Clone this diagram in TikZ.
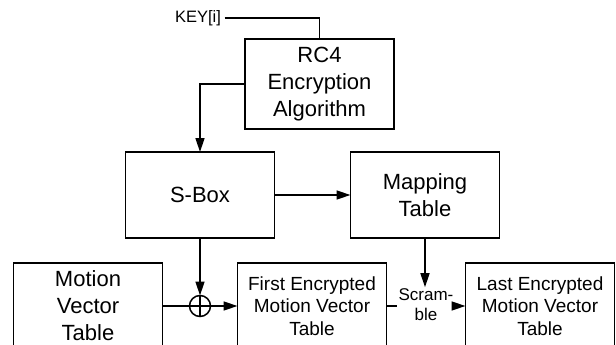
\documentclass[tikz,border=0pt]{standalone}
\usepackage{fontspec}
\setmainfont{Liberation Sans}
\usetikzlibrary{arrows.meta}
\begin{document}
\begin{tikzpicture}[x=1pt,y=-1pt,line width=1.5pt,
  box/.style={draw,minimum width=149pt,minimum height=86pt,inner sep=0pt,outer sep=0pt,align=center,font=\fontsize{22}{27}\selectfont},
  sbox/.style={box,font=\fontsize{19}{22.5}\selectfont},
  arr/.style={-{Triangle[length=14pt,width=9pt]}}]
\useasboundingbox (0,0) rectangle (616,345);
\clip (0,0) rectangle (616,345);
\node[inner sep=3pt,font=\fontsize{16.5}{19}\selectfont] (key) at (198,18) {KEY[i]};
\node[box,minimum height=90pt] (rc4) at (319.5,84) {RC4\\Encryption\\Algorithm};
\node[box] (sb) at (200,195) {S-Box};
\node[box] (map) at (425,195) {Mapping\\Table};
\node[box] (motion) at (88,306) {Motion\\Vector\\Table};
\node[sbox] (first) at (312,306) {First Encrypted\\Motion Vector\\Table};
\node[sbox] (last) at (540,306) {Last Encrypted\\Motion Vector\\Table};
\node[draw,circle,minimum size=21pt,inner sep=0pt,outer sep=0pt] (xor) at (200,306) {};
\draw (xor.north) -- (xor.south) (xor.west) -- (xor.east);
\node[inner sep=1pt,align=center,font=\fontsize{17}{20}\selectfont] (scr) at (426,305) {Scram-\\ble};
\draw (key.east) -| (rc4.north);
\draw[arr] (rc4.west) -| (sb.north);
\draw[arr] (sb.east) -- (map.west);
\draw[arr] (sb.south) -- (xor.north);
\draw (motion.east |- xor) -- (xor.west);
\draw[arr] (xor.east) -- (first.west |- xor);
\draw[arr] (map.south) -- (scr.north -| map.south);
\draw (first.east |- xor) -- (scr.west |- xor);
\draw[arr] (scr.east |- xor) -- (last.west |- xor);
\end{tikzpicture}
\end{document}
